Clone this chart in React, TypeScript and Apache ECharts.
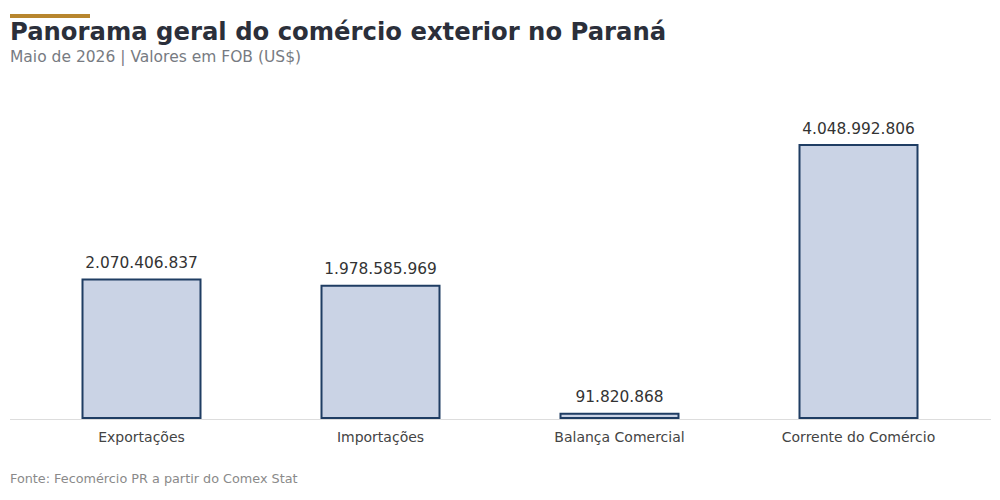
import React, { useEffect, useRef } from "react";
import * as echarts from "echarts";

const categories = ["Exportações", "Importações", "Balança Comercial", "Corrente do Comércio"];
const values = [2070406837, 1978585969, 91820868, 4048992806];

const fmt = (v: number) => v.toLocaleString("de-DE");

export default function App() {
  const ref = useRef<HTMLDivElement>(null);
  useEffect(() => {
    if (!ref.current) return;
    const chart = echarts.init(ref.current, null, { renderer: "svg" });
    const font = "DejaVu Sans";
    chart.setOption({
      animation: false,
      backgroundColor: "#ffffff",
      textStyle: { fontFamily: font },
      grid: { left: 22, right: 22, top: 113.4, bottom: 81, containLabel: false },
      xAxis: {
        type: "category",
        data: categories,
        axisLine: { show: false },
        axisTick: { show: false },
        axisLabel: { color: "#444", fontSize: 14, margin: 11, fontFamily: font },
      },
      yAxis: {
        type: "value",
        min: 0,
        max: 4500000000,
        show: false,
        splitLine: { show: false },
      },
      graphic: [
        { type: "rect", left: 10, top: 14, shape: { width: 80, height: 4 }, style: { fill: "#b8862e" } },
        {
          type: "text",
          left: 10,
          top: 19,
          style: { text: "Panorama geral do comércio exterior no Paraná", font: `bold 24.3px '${font}'`, fill: "#2b2f3a" },
        },
        {
          type: "text",
          left: 10,
          top: 49,
          style: { text: "Maio de 2026 | Valores em FOB (US$)", font: `15.5px '${font}'`, fill: "#777b82" },
        },
        {
          type: "text",
          left: 10,
          top: 472,
          style: { text: "Fonte: Fecomércio PR a partir do Comex Stat", font: `12.8px '${font}'`, fill: "#8a8a8a" },
        },
        {
          type: "line",
          shape: { x1: 10, y1: 419.5, x2: 991, y2: 419.5 },
          style: { stroke: "#dddddd", lineWidth: 1 },
          z: -1,
        },
      ],
      series: [
        {
          type: "bar",
          data: values,
          barWidth: 120,
          itemStyle: { color: "#cad3e5", borderColor: "#1f3d63", borderWidth: 2 },
          label: {
            show: true,
            position: "top",
            distance: 8,
            color: "#333",
            fontSize: 15.4,
            fontFamily: font,
            formatter: (p: any) => fmt(p.value),
          },
        },
      ],
    });
    return () => chart.dispose();
  }, []);
  return <div ref={ref} style={{ position: "fixed", left: 0, top: 0, width: 1000, height: 500 }} />;
}
